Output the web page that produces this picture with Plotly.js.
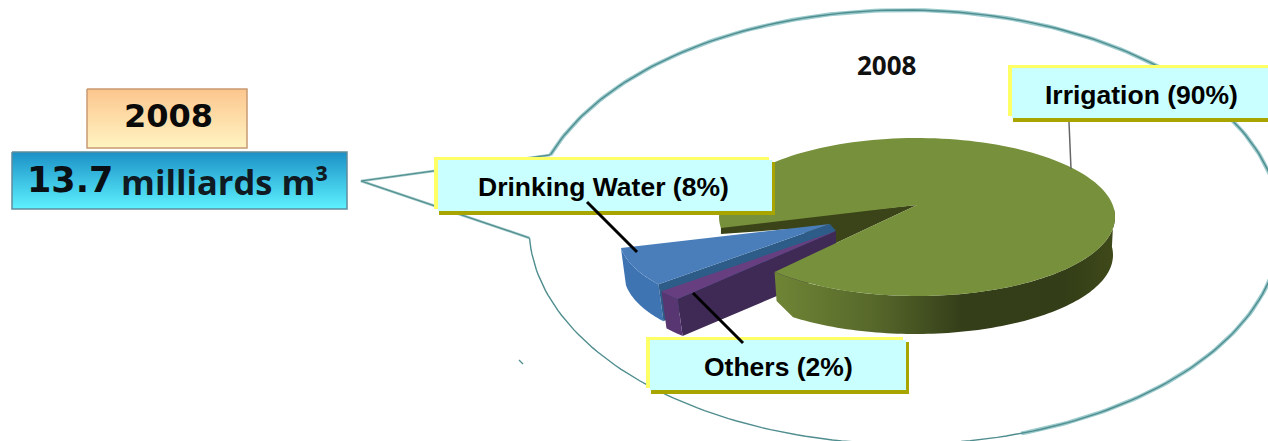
<!DOCTYPE html>
<html>
<head>
<meta charset="utf-8">
<script src="https://cdn.plot.ly/plotly-3.0.1.min.js"></script>
<style>html,body{margin:0;padding:0;background:#fff}#chart{width:1268px;height:441px}</style>
</head>
<body>
<div id="chart"></div>
<script>
// Water withdrawal by use, 2008
const year = '2008';
const totalVolume = '13.7';
const volumeUnit = 'milliards m³';
const categories = ['Irrigation', 'Drinking Water', 'Others'];
const shares = [90, 8, 2];

// Projection of the pie: top ellipse, rim thickness, cut point
const pie = {cx: 917, cy: 217, rx: 198, ry: 79, depth: 38, apexX: 917, apexY: 205};
const firstAngle = 136;          // screen angle, clockwise from +x, where the slices begin
const explodeDrinking = {arcX: -100, arcY: 20, apexX: -87, apexY: 19};
const explodeOthers = {arcX: -97, arcY: 27, apexX: -81, apexY: 26};
const sliceShift = {x: 5, y: 37};

// Speech bubble: an ellipse with a tail pointing at the volume panel
const bubble = {cx: 905, cy: 227, rx: 376, ry: 217, from: 199.4, to: 537.1, softUntil: 432};
const tailTip = {x: 361, y: 181};

const deg = Math.PI / 180;
const total = shares.reduce((a, b) => a + b, 0);
const sweep = v => v / total * 360;

function rimPoint(angle) {
  return {x: pie.cx + pie.rx * Math.cos(angle * deg), y: pie.cy + pie.ry * Math.sin(angle * deg)};
}

// Points along the pie rim between two screen angles
function arc(from, to, dx, dy, steps) {
  const xs = [], ys = [];
  for (let i = 0; i <= steps; i++) {
    const p = rimPoint(from + (to - from) * i / steps);
    xs.push(p.x + dx);
    ys.push(p.y + dy);
  }
  return {x: xs, y: ys};
}

function bubbleArc(from, to) {
  const xs = [], ys = [], steps = 240;
  for (let i = 0; i <= steps; i++) {
    const t = (from + (to - from) * i / steps) * deg;
    xs.push(bubble.cx + bubble.rx * Math.cos(t));
    ys.push(bubble.cy + bubble.ry * Math.sin(t));
  }
  return {x: xs, y: ys};
}

function polygon(x, y, color, extra) {
  return Object.assign({type: 'scatter', mode: 'none', x, y, fill: 'toself', fillcolor: color,
    hoverinfo: 'skip', showlegend: false}, extra || {});
}

function stroke(x, y, color, width) {
  return {type: 'scatter', mode: 'lines', x, y, hoverinfo: 'skip', showlegend: false,
    line: {color, width}};
}

function rim(from, to, dx, dy, color, extra) {
  const top = arc(from, to, dx, dy, 40);
  const low = arc(to, from, dx + sliceShift.x, dy + sliceShift.y, 40);
  return polygon(top.x.concat(low.x), top.y.concat(low.y), color, extra);
}

// Slice angles, drawn from the shares
const othersEnd = firstAngle + sweep(shares[2]);
const drinkingEnd = othersEnd + sweep(shares[1]);
const irrigationEnd = firstAngle;
const irrigationStart = irrigationEnd - sweep(shares[0]);
const cutEnd = rimPoint(irrigationEnd);
const leftEnd = rimPoint(irrigationStart);

const drinkApexX = pie.apexX + explodeDrinking.apexX, drinkApexY = pie.apexY + explodeDrinking.apexY;
const otherApexX = pie.apexX + explodeOthers.apexX, otherApexY = pie.apexY + explodeOthers.apexY;

const traces = [];

// Speech bubble
const softPart = bubbleArc(bubble.from, bubble.softUntil);
const wholeArc = bubbleArc(bubble.from, bubble.to);
const tailX = [wholeArc.x[wholeArc.x.length - 1], tailTip.x, wholeArc.x[0]];
const tailY = [wholeArc.y[wholeArc.y.length - 1], tailTip.y, wholeArc.y[0]];
traces.push(stroke(softPart.x, softPart.y, '#9ccbce', 4));
traces.push(stroke(wholeArc.x, wholeArc.y, '#4f8d8e', 1.4));
traces.push(stroke(tailX, tailY, '#9cc5c6', 2.6));
traces.push(stroke(tailX, tailY, '#4f8d8c', 1.2));
traces.push(stroke([519, 523], [360, 364], '#4f8d8c', 1.2));

// Inner cut of the irrigation slice
traces.push(polygon(
  [leftEnd.x, pie.apexX, cutEnd.x, otherApexX, drinkApexX - 40, leftEnd.x],
  [leftEnd.y - 3, pie.apexY, cutEnd.y, otherApexY + 9, drinkApexY + 5, leftEnd.y + 6],
  '#3b4418'));

// Drinking water slice: rim, inner face, top
const dTop = arc(othersEnd, drinkingEnd, explodeDrinking.arcX, explodeDrinking.arcY, 30);
traces.push(rim(othersEnd, drinkingEnd, explodeDrinking.arcX, explodeDrinking.arcY, '#3f74b2'));
traces.push(polygon(
  [dTop.x[0], drinkApexX, otherApexX, dTop.x[0] + sliceShift.x],
  [dTop.y[0], drinkApexY, otherApexY, dTop.y[0] + sliceShift.y],
  '#2c5c87'));
traces.push(polygon(dTop.x.concat([drinkApexX]), dTop.y.concat([drinkApexY]), '#4a7ebb'));

// Others slice: front face, outer rim, top
const oTop = arc(firstAngle, othersEnd, explodeOthers.arcX, explodeOthers.arcY, 12);
traces.push(polygon(
  [oTop.x[0], otherApexX, otherApexX, oTop.x[0] + sliceShift.x],
  [oTop.y[0], otherApexY, otherApexY + 40, oTop.y[0] + sliceShift.y],
  '#3f2a55'));
traces.push(rim(firstAngle, othersEnd, explodeOthers.arcX, explodeOthers.arcY, '#573672'));
traces.push(polygon(oTop.x.concat([otherApexX]), oTop.y.concat([otherApexY]), '#673f80'));

// Irrigation slice: rim in shaded gradient, then the top
const wTop = arc(firstAngle, -6, 0, 0, 90);
const wLow = arc(-6, firstAngle - 8, -2, pie.depth, 90);
traces.push(polygon(
  wTop.x.concat(wLow.x, [cutEnd.x + 2]),
  wTop.y.concat(wLow.y, [cutEnd.y + 29]), '#55652a', {
  fillgradient: {type: 'horizontal', start: 775, stop: 1115,
    colorscale: [[0, '#6f8535'], [0.3, '#56672a'], [0.55, '#343e19'], [0.85, '#333d17'], [1, '#3f4a1a']]}
}));
const gTop = arc(irrigationStart, irrigationEnd, 0, 0, 160);
traces.push(polygon(gTop.x.concat([pie.apexX]), gTop.y.concat([pie.apexY]), '#77903b'));

// Header panels with vertical gradients
function panel(x0, y0, x1, y1, c0, c1, border) {
  return polygon([x0, x1, x1, x0, x0], [y0, y0, y1, y1, y0], c0, {
    mode: 'lines', line: {color: border, width: 1.5},
    fillgradient: {type: 'vertical', start: y0, stop: y1, colorscale: [[0, c0], [1, c1]]}
  });
}
traces.push(panel(87, 89, 247, 148, '#fcc68e', '#fff4c2', '#c89a72'));
traces.push(panel(12, 152, 347, 209, '#1a90c6', '#5ef2ff', '#5f8d9d'));

// Callout boxes: shadow, highlight, face
function callout(x0, y0, x1, y1, clipRight) {
  const right = clipRight ? 1268 : x1;
  return [
    {type: 'rect', x0: x0 + 1, y0: y0 + 2, x1: clipRight ? 1268 : x1 + 3, y1: y1 + 4, fillcolor: '#a8a400', line: {width: 0}},
    {type: 'rect', x0: x0 - 4, y0: y0 - 3, x1: clipRight ? 1268 : x1 - 3, y1: y1 - 2, fillcolor: '#ffff66', line: {width: 0}},
    {type: 'rect', x0, y0, x1: right, y1, fillcolor: '#c9ffff', line: {width: 0}}
  ];
}
function leader(x0, y0, x1, y1, color, width) {
  return {type: 'line', x0, y0, x1, y1, line: {color, width}};
}
const shapes = [].concat(
  callout(438, 160, 772, 211, false),
  callout(1012, 68, 1268, 118, true),
  callout(650, 340, 906, 390, false),
  [leader(587, 202, 637, 252, '#000', 3),
   leader(693, 293, 743, 343, '#000', 3),
   leader(1069, 122, 1071, 169, '#666', 1.5)]
);

function note(x, y, text, size, family, color) {
  return {xref: 'x', yref: 'y', x, y, text, showarrow: false, xanchor: 'center', yanchor: 'middle',
    font: {family, size, color: color || '#000', weight: 700}};
}
const sans = '"Liberation Sans", Arial, sans-serif';
const dejavu = '"DejaVu Sans", sans-serif';
const open = '"Open Sans", sans-serif';
const annotations = [
  note(168, 116, year, 32, dejavu, '#0a0a0a'),
  note(69.5, 180, totalVolume, 35, dejavu, '#0a0f14'),
  note(224, 181, volumeUnit, 34.5, open, '#0f1a22'),
  note(886, 65, year, 26, open, '#111'),
  note(603.5, 187, categories[1] + ' (' + shares[1] + '%)', 26.5, sans),
  note(1141, 95, categories[0] + ' (' + shares[0] + '%)', 26.5, sans),
  note(778, 367, categories[2] + ' (' + shares[2] + '%)', 26.5, sans)
];

const axis = {visible: false, fixedrange: true, showgrid: false, zeroline: false};
Plotly.newPlot('chart', traces, {
  width: 1268, height: 441,
  margin: {l: 0, r: 0, t: 0, b: 0},
  paper_bgcolor: '#fff', plot_bgcolor: '#fff',
  showlegend: false,
  xaxis: Object.assign({range: [0, 1268]}, axis),
  yaxis: Object.assign({range: [441, 0]}, axis),
  shapes, annotations
}, {displayModeBar: false, staticPlot: true});
</script>
</body>
</html>
